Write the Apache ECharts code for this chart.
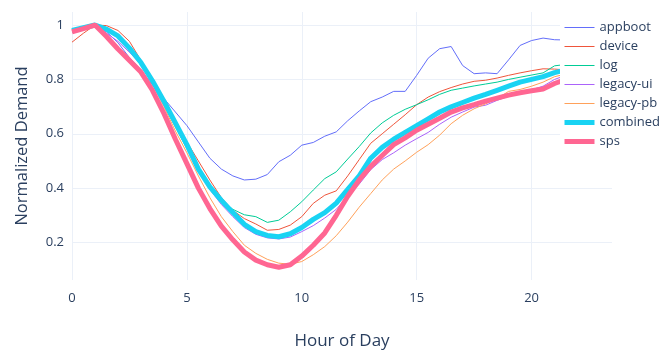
<!DOCTYPE html>
<html><head><meta charset="utf-8">
<script src="https://cdn.jsdelivr.net/npm/echarts@6/dist/echarts.min.js"></script>
<style>html,body{margin:0;padding:0;background:#fff}#c{width:670px;height:359px}</style>
</head><body><div id="c"></div>
<script>
const hours = [];
for (let i = 0; i < 48; i++) hours.push(i / 2);
const seriesNames = ["appboot","device","log","legacy-ui","legacy-pb","combined","sps"];
const appboot = [0.983,0.993,1.0,0.975,0.935,0.88,0.835,0.78,0.73,0.68,0.63,0.57,0.51,0.47,0.445,0.43,0.433,0.45,0.497,0.521,0.558,0.568,0.591,0.607,0.648,0.684,0.718,0.735,0.756,0.756,0.815,0.878,0.913,0.921,0.851,0.821,0.824,0.821,0.872,0.925,0.943,0.952,0.946,0.945,0.94,0.935,0.94,0.96];
const device = [0.937,0.97,1.0,0.998,0.98,0.94,0.87,0.8,0.725,0.65,0.57,0.5,0.43,0.365,0.318,0.288,0.268,0.245,0.248,0.264,0.295,0.344,0.374,0.39,0.445,0.505,0.565,0.6,0.635,0.67,0.707,0.735,0.755,0.77,0.783,0.793,0.797,0.805,0.815,0.824,0.832,0.839,0.838,0.835,0.85,0.87,0.88,0.9];
const log = [0.975,0.99,1.0,0.99,0.955,0.91,0.855,0.785,0.705,0.625,0.545,0.465,0.4,0.355,0.322,0.302,0.295,0.274,0.282,0.313,0.35,0.393,0.435,0.46,0.507,0.553,0.603,0.64,0.668,0.69,0.707,0.725,0.745,0.76,0.768,0.776,0.783,0.79,0.8,0.808,0.816,0.824,0.85,0.855,0.87,0.89,0.91,0.93];
const legacyUi = [0.98,0.99,1.0,0.97,0.94,0.9,0.855,0.79,0.715,0.635,0.55,0.465,0.395,0.34,0.295,0.255,0.23,0.217,0.213,0.22,0.24,0.262,0.29,0.322,0.37,0.415,0.468,0.505,0.53,0.558,0.582,0.605,0.635,0.661,0.68,0.698,0.705,0.723,0.738,0.751,0.762,0.775,0.8,0.815,0.83,0.85,0.88,0.92];
const legacyPb = [0.975,0.99,1.0,0.985,0.96,0.92,0.86,0.785,0.7,0.61,0.53,0.445,0.365,0.295,0.24,0.19,0.16,0.138,0.124,0.12,0.13,0.155,0.185,0.225,0.275,0.33,0.38,0.43,0.47,0.5,0.532,0.56,0.595,0.637,0.668,0.692,0.71,0.729,0.756,0.763,0.775,0.79,0.81,0.82,0.84,0.86,0.89,0.92];
const combined = [0.98,0.99,1.0,0.985,0.96,0.915,0.862,0.795,0.72,0.64,0.56,0.47,0.405,0.355,0.31,0.267,0.24,0.226,0.221,0.232,0.255,0.285,0.31,0.345,0.395,0.445,0.51,0.55,0.58,0.605,0.63,0.655,0.68,0.699,0.715,0.731,0.745,0.76,0.775,0.79,0.8,0.81,0.825,0.835,0.85,0.87,0.89,0.92];
const sps = [0.975,0.987,1.0,0.958,0.912,0.87,0.827,0.76,0.675,0.58,0.49,0.4,0.325,0.26,0.21,0.165,0.135,0.118,0.109,0.118,0.15,0.19,0.235,0.3,0.37,0.43,0.48,0.52,0.56,0.585,0.613,0.635,0.657,0.68,0.695,0.707,0.72,0.731,0.742,0.751,0.758,0.765,0.785,0.8,0.81,0.83,0.86,0.9];
const yTicks = [0.2, 0.4, 0.6, 0.8, 1];
const xTicks = [0, 5, 10, 15, 20];

const values = [appboot, device, log, legacyUi, legacyPb, combined, sps];
const colors = ["#636efa","#EF553B","#00cc96","#ab63fa","#FFA15A","#19d3f3","#FF6692"];
const widths = [1,1,1,1,1,5,5];
const FONT = '"Open Sans", Verdana, Arial, sans-serif';
const chart = echarts.init(document.getElementById('c'), null, {renderer: 'canvas'});
chart.setOption({
  animation: false,
  backgroundColor: '#fff',
  textStyle: {fontFamily: FONT, color: '#2a3f5f'},
  grid: {left: 72, right: 58, top: 12, bottom: 79, containLabel: false},
  legend: {
    orient: 'vertical', left: 560, top: 19, itemWidth: 30, itemHeight: 14, itemGap: 6,
    backgroundColor: '#fff', padding: [2, 4, 4, 2], z: 20,
    itemStyle: {opacity: 0},
    textStyle: {fontFamily: FONT, fontSize: 13, color: '#2a3f5f'},
    data: seriesNames.map((n, i) => ({name: n, lineStyle: {width: widths[i], color: colors[i]}}))
  },
  xAxis: {
    type: 'value', min: 0, max: 23.5,
    name: 'Hour of Day', nameLocation: 'middle', nameGap: 53,
    nameTextStyle: {fontFamily: FONT, fontSize: 17, color: '#2a3f5f'},
    axisLine: {show: false},
    axisTick: {show: false, customValues: xTicks},
    axisLabel: {fontFamily: FONT, fontSize: 13, color: '#2a3f5f', margin: 12, customValues: xTicks},
    splitLine: {show: true, lineStyle: {color: '#EBF0F8', width: 1}}
  },
  yAxis: {
    type: 'value', min: 0.062, max: 1.048,
    name: 'Normalized Demand', nameLocation: 'middle', nameGap: 41,
    nameTextStyle: {fontFamily: FONT, fontSize: 16.5, color: '#2a3f5f'},
    axisLine: {show: false},
    axisTick: {show: false, customValues: yTicks},
    axisLabel: {fontFamily: FONT, fontSize: 13, color: '#2a3f5f', margin: 8, customValues: yTicks,
      formatter: v => (Math.abs(v - 1) < 1e-9 ? '1' : String(Math.round(v * 10) / 10))},
    splitLine: {show: true, lineStyle: {color: '#EBF0F8', width: 1}}
  },
  series: seriesNames.map((n, i) => ({
    name: n, type: 'line', showSymbol: false, symbol: 'none', smooth: false,
    data: hours.map((h, j) => [h, values[i][j]]),
    lineStyle: {color: colors[i], width: widths[i]},
    itemStyle: {color: colors[i]}
  }))
});
</script></body></html>
